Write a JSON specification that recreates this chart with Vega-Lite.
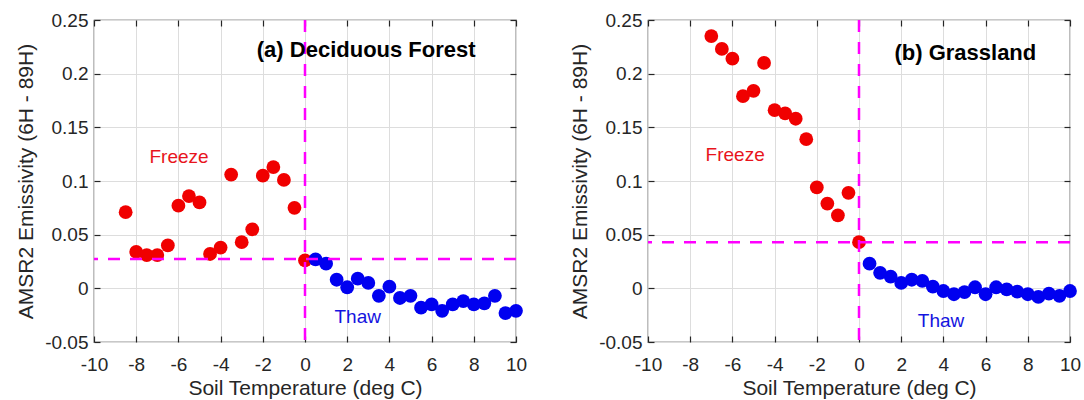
{
  "$schema": "https://vega.github.io/schema/vega-lite/v6.json",
  "padding": {"left": 15, "top": 10, "right": 0, "bottom": 0},
  "background": "white",
  "spacing": 41,
  "config": {
    "font": "Liberation Sans",
    "view": {"stroke": "#262626", "strokeWidth": 1.2},
    "axis": {
      "labelFont": "Liberation Sans",
      "labelFontSize": 19,
      "labelColor": "#262626",
      "labelFlush": false,
      "titleFont": "Liberation Sans",
      "titleFontSize": 21,
      "titleFontWeight": "normal",
      "titleColor": "#262626",
      "gridColor": "#dddddd",
      "gridWidth": 1,
      "domain": false,
      "tickColor": "#262626",
      "tickSize": -6,
      "tickWidth": 1.2
    }
  },
  "datasets": {
    "points": [
      {"panel": "a", "phase": "Freeze", "temp": -8.5, "emis": 0.071},
      {"panel": "a", "phase": "Freeze", "temp": -8, "emis": 0.034},
      {"panel": "a", "phase": "Freeze", "temp": -7.5, "emis": 0.031},
      {"panel": "a", "phase": "Freeze", "temp": -7, "emis": 0.031},
      {"panel": "a", "phase": "Freeze", "temp": -6.5, "emis": 0.040},
      {"panel": "a", "phase": "Freeze", "temp": -6, "emis": 0.077},
      {"panel": "a", "phase": "Freeze", "temp": -5.5, "emis": 0.086},
      {"panel": "a", "phase": "Freeze", "temp": -5, "emis": 0.080},
      {"panel": "a", "phase": "Freeze", "temp": -4.5, "emis": 0.032},
      {"panel": "a", "phase": "Freeze", "temp": -4, "emis": 0.038},
      {"panel": "a", "phase": "Freeze", "temp": -3.5, "emis": 0.106},
      {"panel": "a", "phase": "Freeze", "temp": -3, "emis": 0.043},
      {"panel": "a", "phase": "Freeze", "temp": -2.5, "emis": 0.055},
      {"panel": "a", "phase": "Freeze", "temp": -2, "emis": 0.105},
      {"panel": "a", "phase": "Freeze", "temp": -1.5, "emis": 0.113},
      {"panel": "a", "phase": "Freeze", "temp": -1, "emis": 0.101},
      {"panel": "a", "phase": "Freeze", "temp": -0.5, "emis": 0.075},
      {"panel": "a", "phase": "Freeze", "temp": 0, "emis": 0.026},
      {"panel": "a", "phase": "Thaw", "temp": 0.5, "emis": 0.027},
      {"panel": "a", "phase": "Thaw", "temp": 1, "emis": 0.023},
      {"panel": "a", "phase": "Thaw", "temp": 1.5, "emis": 0.008},
      {"panel": "a", "phase": "Thaw", "temp": 2, "emis": 0.001},
      {"panel": "a", "phase": "Thaw", "temp": 2.5, "emis": 0.009},
      {"panel": "a", "phase": "Thaw", "temp": 3, "emis": 0.005},
      {"panel": "a", "phase": "Thaw", "temp": 3.5, "emis": -0.007},
      {"panel": "a", "phase": "Thaw", "temp": 4, "emis": 0.0015},
      {"panel": "a", "phase": "Thaw", "temp": 4.5, "emis": -0.009},
      {"panel": "a", "phase": "Thaw", "temp": 5, "emis": -0.007},
      {"panel": "a", "phase": "Thaw", "temp": 5.5, "emis": -0.018},
      {"panel": "a", "phase": "Thaw", "temp": 6, "emis": -0.015},
      {"panel": "a", "phase": "Thaw", "temp": 6.5, "emis": -0.021},
      {"panel": "a", "phase": "Thaw", "temp": 7, "emis": -0.015},
      {"panel": "a", "phase": "Thaw", "temp": 7.5, "emis": -0.012},
      {"panel": "a", "phase": "Thaw", "temp": 8, "emis": -0.015},
      {"panel": "a", "phase": "Thaw", "temp": 8.5, "emis": -0.014},
      {"panel": "a", "phase": "Thaw", "temp": 9, "emis": -0.007},
      {"panel": "a", "phase": "Thaw", "temp": 9.5, "emis": -0.023},
      {"panel": "a", "phase": "Thaw", "temp": 10, "emis": -0.021},
      {"panel": "b", "phase": "Freeze", "temp": -7, "emis": 0.235},
      {"panel": "b", "phase": "Freeze", "temp": -6.5, "emis": 0.223},
      {"panel": "b", "phase": "Freeze", "temp": -6, "emis": 0.214},
      {"panel": "b", "phase": "Freeze", "temp": -5.5, "emis": 0.179},
      {"panel": "b", "phase": "Freeze", "temp": -5, "emis": 0.184},
      {"panel": "b", "phase": "Freeze", "temp": -4.5, "emis": 0.210},
      {"panel": "b", "phase": "Freeze", "temp": -4, "emis": 0.166},
      {"panel": "b", "phase": "Freeze", "temp": -3.5, "emis": 0.163},
      {"panel": "b", "phase": "Freeze", "temp": -3, "emis": 0.158},
      {"panel": "b", "phase": "Freeze", "temp": -2.5, "emis": 0.139},
      {"panel": "b", "phase": "Freeze", "temp": -2, "emis": 0.094},
      {"panel": "b", "phase": "Freeze", "temp": -1.5, "emis": 0.079},
      {"panel": "b", "phase": "Freeze", "temp": -1, "emis": 0.068},
      {"panel": "b", "phase": "Freeze", "temp": -0.5, "emis": 0.089},
      {"panel": "b", "phase": "Freeze", "temp": 0, "emis": 0.043},
      {"panel": "b", "phase": "Thaw", "temp": 0.5, "emis": 0.023},
      {"panel": "b", "phase": "Thaw", "temp": 1, "emis": 0.0145},
      {"panel": "b", "phase": "Thaw", "temp": 1.5, "emis": 0.011},
      {"panel": "b", "phase": "Thaw", "temp": 2, "emis": 0.005},
      {"panel": "b", "phase": "Thaw", "temp": 2.5, "emis": 0.008},
      {"panel": "b", "phase": "Thaw", "temp": 3, "emis": 0.007},
      {"panel": "b", "phase": "Thaw", "temp": 3.5, "emis": 0.0015},
      {"panel": "b", "phase": "Thaw", "temp": 4, "emis": -0.0025},
      {"panel": "b", "phase": "Thaw", "temp": 4.5, "emis": -0.0055},
      {"panel": "b", "phase": "Thaw", "temp": 5, "emis": -0.0035},
      {"panel": "b", "phase": "Thaw", "temp": 5.5, "emis": 0.001},
      {"panel": "b", "phase": "Thaw", "temp": 6, "emis": -0.0055},
      {"panel": "b", "phase": "Thaw", "temp": 6.5, "emis": 0.001},
      {"panel": "b", "phase": "Thaw", "temp": 7, "emis": -0.001},
      {"panel": "b", "phase": "Thaw", "temp": 7.5, "emis": -0.003},
      {"panel": "b", "phase": "Thaw", "temp": 8, "emis": -0.0055},
      {"panel": "b", "phase": "Thaw", "temp": 8.5, "emis": -0.008},
      {"panel": "b", "phase": "Thaw", "temp": 9, "emis": -0.005},
      {"panel": "b", "phase": "Thaw", "temp": 9.5, "emis": -0.007},
      {"panel": "b", "phase": "Thaw", "temp": 10, "emis": -0.0025}
    ],
    "thresholds": [
      {"panel": "a", "level": 0.0273},
      {"panel": "b", "level": 0.043}
    ],
    "one": [{}]
  },
  "hconcat": [
    {
      "width": 422,
      "height": 322,
      "layer": [
        {
          "data": {"name": "points"},
          "transform": [{"filter": "datum.panel == 'a'"}],
          "mark": {"type": "circle", "size": 190, "opacity": 1},
          "encoding": {
            "x": {"field": "temp", "type": "quantitative", "scale": {"domain": [-10, 10], "nice": false},
                  "axis": {"orient": "bottom", "title": "Soil Temperature (deg C)", "values": [-10, -8, -6, -4, -2, 0, 2, 4, 6, 8, 10], "labelExpr": "replace(format(datum.value, 'd'), '\u2212', '-')", "labelPadding": 19, "titlePadding": 3, "grid": true}},
            "y": {"field": "emis", "type": "quantitative", "scale": {"domain": [-0.05, 0.25], "nice": false},
                  "axis": {"orient": "left", "title": "AMSR2 Emissivity (6H - 89H)", "values": [-0.05, 0, 0.05, 0.1, 0.15, 0.2, 0.25], "labelExpr": "datum.value == 0 ? '0' : replace(format(datum.value, '.2~f'), '\u2212', '-')", "labelPadding": 12, "titlePadding": 8, "grid": true}},
            "color": {"field": "phase", "type": "nominal", "scale": {"domain": ["Freeze", "Thaw"], "range": ["#f00000", "#0000f0"]}, "legend": null}
          }
        },
        {
          "data": {"name": "thresholds"},
          "transform": [{"filter": "datum.panel == 'a'"}],
          "mark": {"type": "rule", "color": "#ff00ff", "strokeWidth": 2.5, "strokeDash": [12, 10]},
          "encoding": {
            "y": {"field": "level", "type": "quantitative", "axis": {"orient": "right", "labels": false, "grid": false, "title": null, "values": [-0.05, 0, 0.05, 0.1, 0.15, 0.2, 0.25]}}
          }
        },
        {
          "data": {"name": "thresholds"},
          "transform": [{"filter": "datum.panel == 'a'"}],
          "mark": {"type": "rule", "color": "#ff00ff", "strokeWidth": 2.5, "strokeDash": [12, 10]},
          "encoding": {
            "x": {"datum": 0, "type": "quantitative", "axis": {"orient": "top", "labels": false, "grid": false, "title": null, "values": [-10, -8, -6, -4, -2, 0, 2, 4, 6, 8, 10]}}
          }
        },
        {
          "data": {"name": "one"},
          "mark": {"type": "text", "text": "(a) Deciduous Forest", "fontSize": 22, "fontWeight": "bold", "color": "#000000", "align": "center", "baseline": "middle"},
          "encoding": {"x": {"datum": 2.9, "type": "quantitative", "axis": null}, "y": {"datum": 0.222, "type": "quantitative", "axis": null}}
        },
        {
          "data": {"name": "one"},
          "mark": {"type": "text", "text": "Freeze", "fontSize": 19, "color": "#e8141c", "align": "center", "baseline": "middle"},
          "encoding": {"x": {"datum": -5.97, "type": "quantitative", "axis": null}, "y": {"datum": 0.122, "type": "quantitative", "axis": null}}
        },
        {
          "data": {"name": "one"},
          "mark": {"type": "text", "text": "Thaw", "fontSize": 19, "color": "#1414e0", "align": "center", "baseline": "middle"},
          "encoding": {"x": {"datum": 2.5, "type": "quantitative", "axis": null}, "y": {"datum": -0.0265, "type": "quantitative", "axis": null}}
        }
      ]
    },
    {
      "width": 422,
      "height": 322,
      "layer": [
        {
          "data": {"name": "points"},
          "transform": [{"filter": "datum.panel == 'b'"}],
          "mark": {"type": "circle", "size": 190, "opacity": 1},
          "encoding": {
            "x": {"field": "temp", "type": "quantitative", "scale": {"domain": [-10, 10], "nice": false},
                  "axis": {"orient": "bottom", "title": "Soil Temperature (deg C)", "values": [-10, -8, -6, -4, -2, 0, 2, 4, 6, 8, 10], "labelExpr": "replace(format(datum.value, 'd'), '\u2212', '-')", "labelPadding": 19, "titlePadding": 3, "grid": true}},
            "y": {"field": "emis", "type": "quantitative", "scale": {"domain": [-0.05, 0.25], "nice": false},
                  "axis": {"orient": "left", "title": "AMSR2 Emissivity (6H - 89H)", "values": [-0.05, 0, 0.05, 0.1, 0.15, 0.2, 0.25], "labelExpr": "datum.value == 0 ? '0' : replace(format(datum.value, '.2~f'), '\u2212', '-')", "labelPadding": 12, "titlePadding": 8, "grid": true}},
            "color": {"field": "phase", "type": "nominal", "scale": {"domain": ["Freeze", "Thaw"], "range": ["#f00000", "#0000f0"]}, "legend": null}
          }
        },
        {
          "data": {"name": "thresholds"},
          "transform": [{"filter": "datum.panel == 'b'"}],
          "mark": {"type": "rule", "color": "#ff00ff", "strokeWidth": 2.5, "strokeDash": [12, 10]},
          "encoding": {
            "y": {"field": "level", "type": "quantitative", "axis": {"orient": "right", "labels": false, "grid": false, "title": null, "values": [-0.05, 0, 0.05, 0.1, 0.15, 0.2, 0.25]}}
          }
        },
        {
          "data": {"name": "thresholds"},
          "transform": [{"filter": "datum.panel == 'b'"}],
          "mark": {"type": "rule", "color": "#ff00ff", "strokeWidth": 2.5, "strokeDash": [12, 10]},
          "encoding": {
            "x": {"datum": 0, "type": "quantitative", "axis": {"orient": "top", "labels": false, "grid": false, "title": null, "values": [-10, -8, -6, -4, -2, 0, 2, 4, 6, 8, 10]}}
          }
        },
        {
          "data": {"name": "one"},
          "mark": {"type": "text", "text": "(b) Grassland", "fontSize": 22, "fontWeight": "bold", "color": "#000000", "align": "center", "baseline": "middle"},
          "encoding": {"x": {"datum": 5.04, "type": "quantitative", "axis": null}, "y": {"datum": 0.2195, "type": "quantitative", "axis": null}}
        },
        {
          "data": {"name": "one"},
          "mark": {"type": "text", "text": "Freeze", "fontSize": 19, "color": "#e8141c", "align": "center", "baseline": "middle"},
          "encoding": {"x": {"datum": -5.87, "type": "quantitative", "axis": null}, "y": {"datum": 0.124, "type": "quantitative", "axis": null}}
        },
        {
          "data": {"name": "one"},
          "mark": {"type": "text", "text": "Thaw", "fontSize": 19, "color": "#1414e0", "align": "center", "baseline": "middle"},
          "encoding": {"x": {"datum": 3.89, "type": "quantitative", "axis": null}, "y": {"datum": -0.030, "type": "quantitative", "axis": null}}
        }
      ]
    }
  ]
}
